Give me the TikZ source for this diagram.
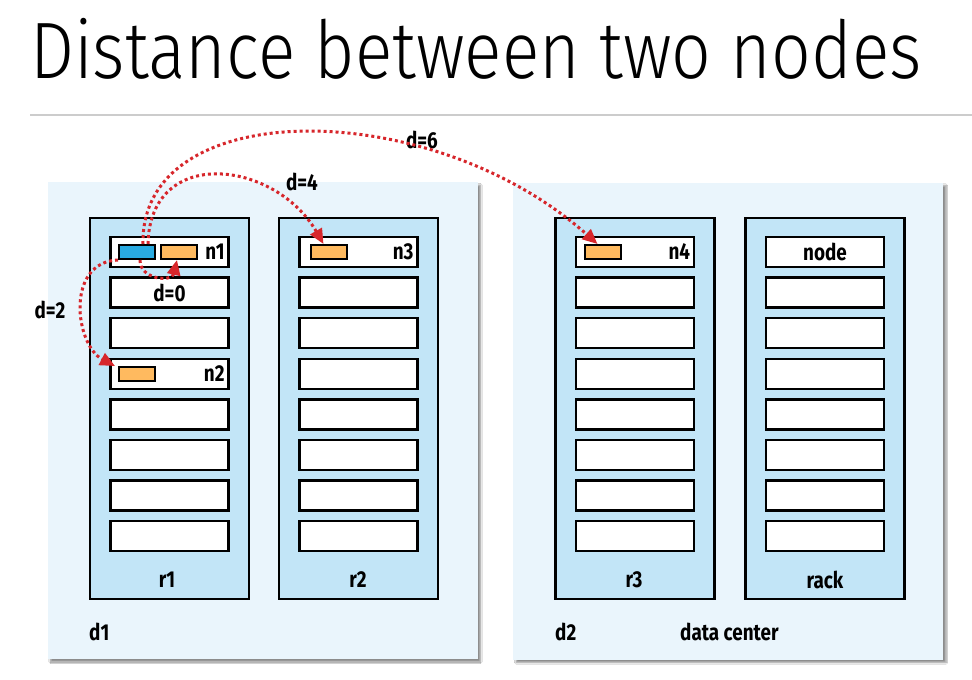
\documentclass[tikz,border=0pt]{standalone}
\usepackage{fontspec}
\usetikzlibrary{arrows.meta,shadows.blur}

\newfontfamily\ttlfont[FakeStretch=0.87]{Fira Sans Light}
\newfontfamily\lblfont[FakeStretch=0.82]{Fira Sans}

\definecolor{dcfill}{HTML}{EAF5FC}
\definecolor{rackfill}{HTML}{C2E5F7}
\definecolor{srcblue}{HTML}{29ABE2}
\definecolor{hostorange}{HTML}{FFBA5F}
\definecolor{hopred}{HTML}{D7262B}

\tikzset{
  dcbox/.style={fill=dcfill, minimum width=430pt, minimum height=477pt,
    blur shadow={shadow xshift=3pt, shadow yshift=-3pt, shadow blur steps=6, shadow opacity=45}},
  rackbox/.style={draw, line width=2.5pt, fill=rackfill, minimum width=159pt, minimum height=381pt},
  slotbox/.style={draw, line width=2.5pt, fill=white, minimum width=118pt, minimum height=30pt},
  hostbox/.style={draw, line width=2pt, minimum width=36pt, minimum height=14pt},
  lbl/.style={font=\lblfont\bfseries\fontsize{23}{26}\selectfont, inner sep=0pt},
  hop/.style={hopred, line width=3pt, dash pattern=on 3pt off 3pt, -{Triangle[length=15pt,width=13pt]}}
}

\begin{document}
\begin{tikzpicture}[x=1pt, y=-1pt]
    \useasboundingbox (0,0) rectangle (972,680);
    \fill[white] (0,0) rectangle (972,680);

    \node[anchor=base west, inner sep=0pt, font=\ttlfont\fontsize{80}{90}\selectfont] (title) at (30,78) {Distance between two nodes};
    \draw[black!20, line width=2pt] (30,115) -- (972,115);

    \node[dcbox] (d1) at (262.5,420.5) {};
    \node[dcbox] (d2) at (728,421) {};

    \foreach \r/\x in {r1/169.5, r2/358.5, r3/635, rack/825} {
      \node[rackbox] (\r) at (\x,408.5) {};
      \foreach \i in {1,...,8}
        \node[slotbox] (\r-\i) at (\x,{252+40.6*(\i-1)}) {};
    }

    \node[hostbox, fill=srcblue] (src) at (137,252) {};
    \node[hostbox, fill=hostorange] (h1) at (179,252) {};
    \node[hostbox, fill=hostorange] (h2) at (137,374) {};
    \node[hostbox, fill=hostorange] (h3) at (328.5,252) {};
    \node[hostbox, fill=hostorange] (h4) at (602.5,252) {};

    \node[lbl, anchor=east] (n1) at ([xshift=-5pt]r1-1.east) {n1};
    \node[lbl, anchor=east] (n2) at ([xshift=-5pt]r1-4.east) {n2};
    \node[lbl, anchor=east] (n3) at ([xshift=-5pt]r2-1.east) {n3};
    \node[lbl, anchor=east] (n4) at ([xshift=-5pt]r3-1.east) {n4};
    \node[lbl] (nodelbl) at (rack-1) {node};
    \node[lbl] (d0) at (r1-2) {d=0};

    \node[lbl] (r1lbl) at (167,580) {r1};
    \node[lbl] (r2lbl) at (358,580) {r2};
    \node[lbl] (r3lbl) at (634,580) {r3};
    \node[lbl] (racklbl) at (825,580) {rack};
    \node[lbl, anchor=west] (d1lbl) at (89,632) {d1};
    \node[lbl, anchor=west] (d2lbl) at (555,632) {d2};
    \node[lbl, anchor=west] (dclbl) at (680,632) {data center};

    \node[lbl] (d2hop) at (50,310) {d=2};
    \node[lbl] (d4hop) at (302,182) {d=4};
    \node[lbl] (d6hop) at (422,140) {d=6};

    \draw[hop] ([xshift=6pt]src.north) .. controls (140,95) and (430,95) .. ([xshift=-5pt]h4.north);
    \draw[hop] ([xshift=11pt]src.north) .. controls (150,145) and (275,160) .. ([xshift=-5pt]h3.north);
    \draw[hop] ([xshift=3pt]src.south) .. controls (140,280) and (172,282) .. ([xshift=-2pt]h1.south);
    \draw[hop] (src.south west) .. controls (65,262) and (75,345) .. ([xshift=-3pt]h2.north west);
\end{tikzpicture}
\end{document}
